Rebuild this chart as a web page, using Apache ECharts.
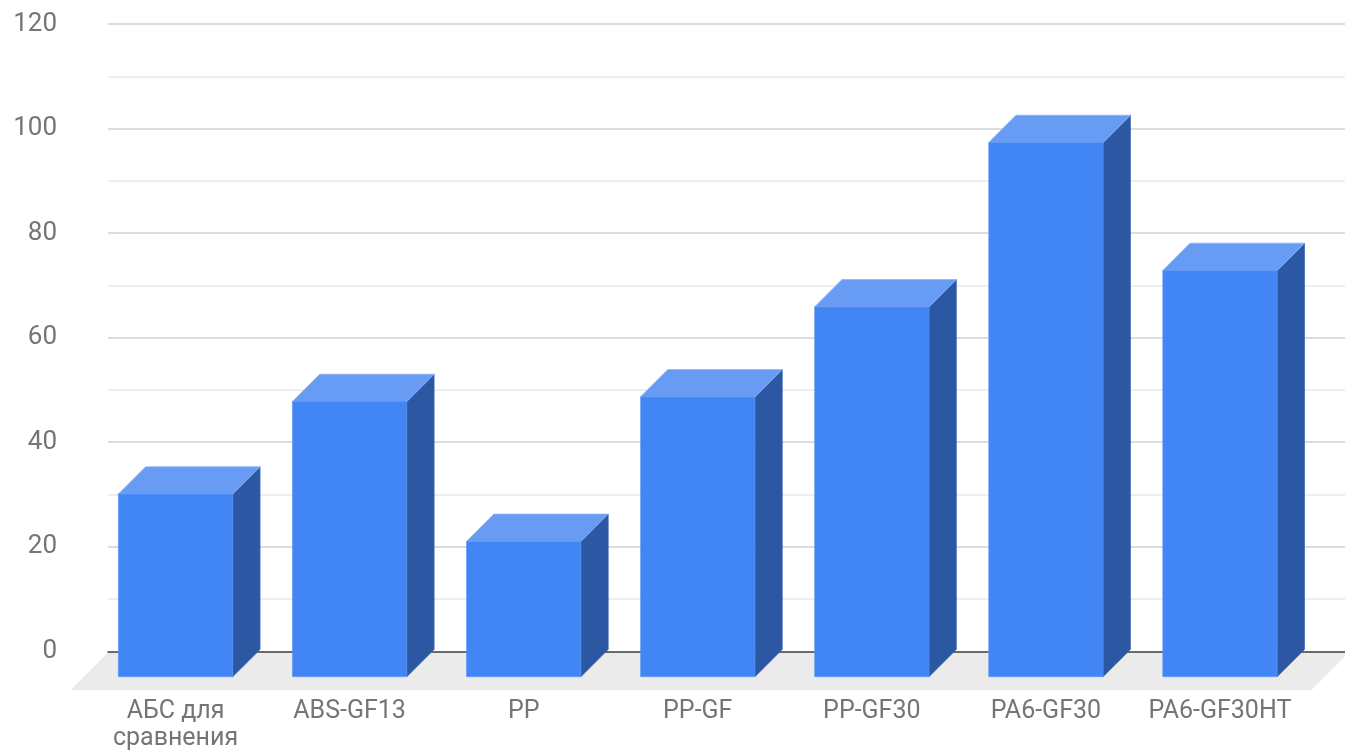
<!DOCTYPE html>
<html>
<head>
<meta charset="utf-8">
<script src="https://cdn.jsdelivr.net/npm/echarts@6/dist/echarts.min.js"></script>
<style>
html,body{margin:0;padding:0;background:#fff;}
#chart{width:1345px;height:752px;}
</style>
</head>
<body>
<div id="chart"></div>
<script>
const categories = ['АБС для\nсравнения', 'ABS-GF13', 'PP', 'PP-GF', 'PP-GF30', 'PA6-GF30', 'PA6-GF30HT'];
const values = [29.6, 47.4, 20.5, 48.3, 65.6, 97.2, 72.6];
const yMin = 0;
const yMax = 120;
const yStep = 20;

const DEPTH = 27.3;   // oblique offset of the 3D faces (px)
const DROP = 28.7;    // front face extends below the back-wall baseline (px)
const BAR_RATIO = 0.657;

const chart = echarts.init(document.getElementById('chart'), null, {renderer: 'canvas'});

const gridTop = 24, gridBottom = 100.7;

const option = {
  animation: false,
  backgroundColor: '#ffffff',
  textStyle: {fontFamily: 'Roboto'},
  grid: [
    {left: 108, right: 0, top: gridTop, bottom: gridBottom},
    {left: 88.5, right: 38, top: gridTop, bottom: gridBottom}
  ],
  xAxis: [
    {
      gridIndex: 0, type: 'value', min: 0, max: 1,
      axisLabel: {show: false}, axisTick: {show: false}, splitLine: {show: false},
      axisLine: {show: true, onZero: false, lineStyle: {color: '#444444', width: 1.5}}
    },
    {
      gridIndex: 1, type: 'category', data: categories,
      axisLine: {show: false}, axisTick: {show: false},
      axisLabel: {
        color: '#757575', fontSize: 25, fontFamily: 'Roboto',
        lineHeight: 27, margin: 50, interval: 0
      }
    }
  ],
  yAxis: [
    {
      gridIndex: 0, type: 'value', min: yMin, max: yMax, interval: yStep,
      axisLine: {show: false}, axisTick: {show: false},
      axisLabel: {color: '#757575', fontSize: 26, fontFamily: 'Roboto', margin: 51},
      splitLine: {show: true, lineStyle: {color: '#d0d0d0', width: 1.5}},
      minorTick: {show: false, splitNumber: 2},
      minorSplitLine: {show: true, lineStyle: {color: '#e9e9e9', width: 1.5}}
    },
    {
      gridIndex: 1, type: 'value', min: yMin, max: yMax, interval: yStep,
      show: false, splitLine: {show: false}
    }
  ],
  graphic: [
    {
      type: 'polygon', z: -10, silent: true,
      shape: {points: [[70.5, 690], [108, 652.5], [1345, 652.5], [1345, 656.5], [1311.5, 690]]},
      style: {fill: '#ebebeb'}
    }
  ],
  series: [
    {
      type: 'custom',
      xAxisIndex: 1, yAxisIndex: 1,
      data: values.map((v, i) => [i, v]),
      encode: {x: 0, y: 1},
      renderItem: function (params, api) {
        const i = api.value(0);
        const v = api.value(1);
        const top = api.coord([i, v]);
        const base = api.coord([i, 0]);
        const bw = api.size([1, 0])[0] * BAR_RATIO;
        const x0 = top[0] - bw / 2, x1 = top[0] + bw / 2;
        const yT = top[1], yB = base[1] + DROP;
        const D = DEPTH;
        return {
          type: 'group',
          children: [
            {
              type: 'polygon',
              shape: {points: [[x1, yT], [x1 + D, yT - D], [x1 + D, yB - D], [x1, yB]]},
              style: {fill: '#2b57a3', stroke: '#3a66b3', lineWidth: 0.8}
            },
            {
              type: 'polygon',
              shape: {points: [[x0, yT], [x1, yT], [x1 + D, yT - D], [x0 + D, yT - D]]},
              style: {fill: '#689cf4', stroke: '#8cb4f7', lineWidth: 0.8}
            },
            {
              type: 'rect',
              shape: {x: x0, y: yT, width: bw, height: yB - yT},
              style: {fill: '#4285f4', stroke: '#5a95f5', lineWidth: 0.6}
            }
          ]
        };
      }
    }
  ]
};

chart.setOption(option);
</script>
</body>
</html>
